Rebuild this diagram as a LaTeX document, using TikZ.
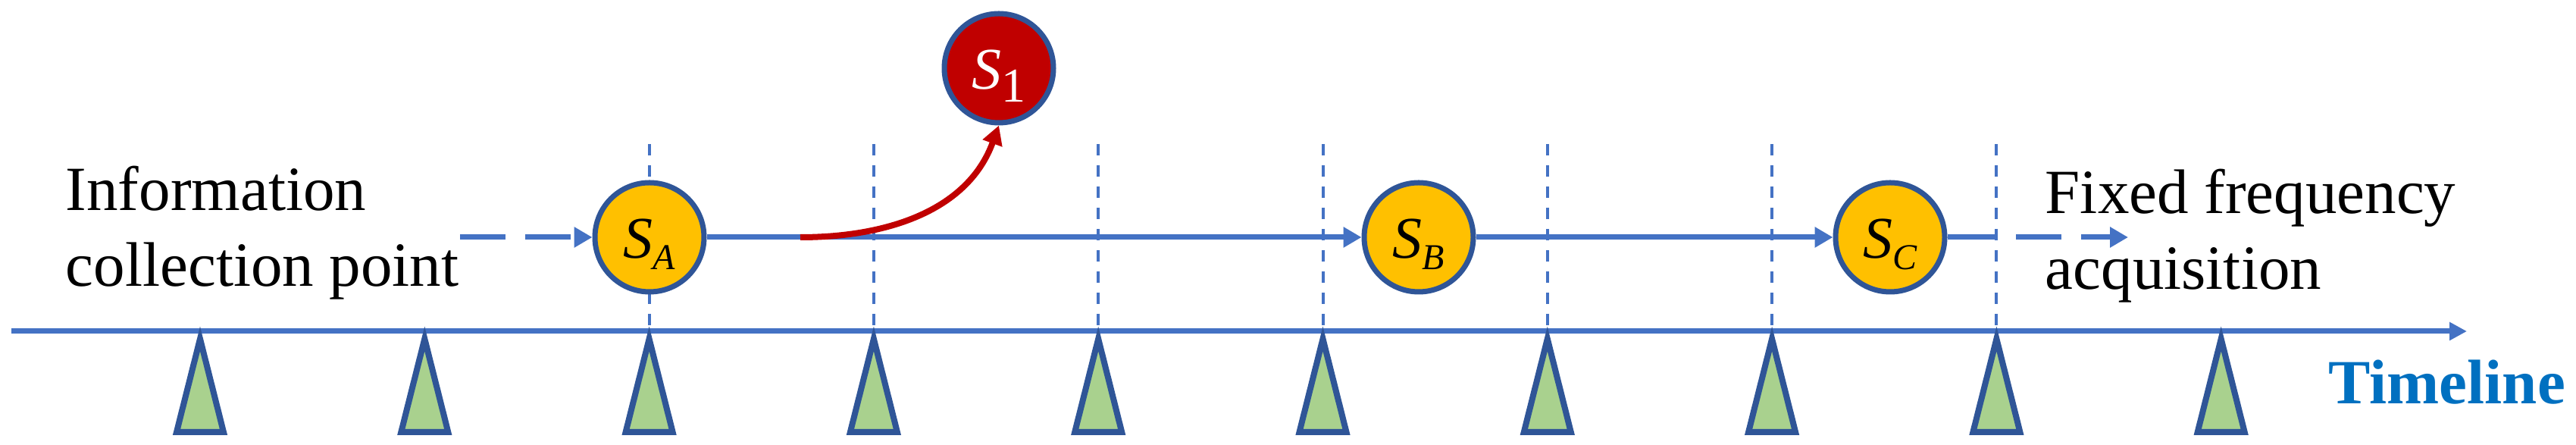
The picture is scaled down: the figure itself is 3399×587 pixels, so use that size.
\documentclass[tikz,border=0pt]{standalone}
\usepackage{fontspec}
\setmainfont{Liberation Serif}
\usetikzlibrary{arrows.meta}
\definecolor{flowblue}{HTML}{4472C4}
\definecolor{rimblue}{HTML}{2F5597}
\definecolor{stateyellow}{HTML}{FFC000}
\definecolor{statered}{HTML}{C00000}
\definecolor{tickgreen}{HTML}{A9D18E}
\definecolor{labelblue}{HTML}{0070C0}
\def\axisy{150}
\def\flowy{274}
\def\guidetop{397}
\def\tickgap{296.3}
\def\tickstart{264}
\def\spread{31}
\tikzset{
    statenode/.style={circle, draw=rimblue, line width=1.75pt, minimum size=36pt, inner sep=0pt,
        text height=14pt, text depth=0pt, font=\fontsize{19.5}{20}\selectfont},
    flowline/.style={flowblue, line width=1.75pt},
    flowtip/.style={-{Triangle[length=6pt,width=6.5pt]}},
    flowdash/.style={dash pattern=on 15pt off 6.5pt},
    notetext/.style={font=\fontsize{20.75}{25}\selectfont, align=left, inner sep=0pt, anchor=base west}
}
\newcommand{\sname}[1]{\textit{S}\lower3.75pt\hbox{\fontsize{12}{12}\selectfont\itshape #1}}
\newcommand{\timemark}[1]{
    \coordinate (t#1) at (\tickstart+#1*\tickgap, \axisy);
    \draw [rimblue, line width=2pt, fill=tickgreen]
    (\tickstart+#1*\tickgap, \axisy-10) -- ++(-\spread,-123) -- ++(2*\spread,0) -- cycle;
}
\newcommand{\timeguide}[1]{
    \coordinate (g#1) at (\tickstart+#1*\tickgap, \guidetop);
    \coordinate (f#1) at (\tickstart+#1*\tickgap, \axisy);
    \draw [flowblue, line width=1pt, dash pattern=on 3.75pt off 3.25pt] (g#1) -- (f#1);
}

\begin{document}
\begin{tikzpicture}[x=0.25pt, y=0.25pt]
    \useasboundingbox (0,0) rectangle (3399,587);
    \timeguide{2}
    \timeguide{3}
    \timeguide{4}
    \timeguide{5}
    \timeguide{6}
    \timeguide{7}
    \timeguide{8}
    \coordinate (axstart) at (15,\axisy);
    \coordinate (axend) at (3255,\axisy);
    \draw [flowline, -{Triangle[length=5.75pt,width=5.75pt]}] (axstart) -- (axend);
    \timemark{0}
    \timemark{1}
    \timemark{2}
    \timemark{3}
    \timemark{4}
    \timemark{5}
    \timemark{6}
    \timemark{7}
    \timemark{8}
    \timemark{9}
    \node[statenode, fill=stateyellow] (SA) at (857,\flowy) {\sname{A}};
    \node[statenode, fill=stateyellow] (SB) at (1872,\flowy) {\sname{B}};
    \node[statenode, fill=stateyellow] (SC) at (2494,\flowy) {\sname{C}};
    \node[statenode, fill=statered, text=white] (S1) at (1318,497)
    {\textit{S}\lower4.25pt\hbox{\fontsize{16}{16}\selectfont 1}};
    \node[notetext] (info) at (86,209) {Information\\collection point};
    \node[notetext] (fixed) at (2698,205) {Fixed frequency\\acquisition};
    \node[notetext, font=\fontsize{20.75}{25}\selectfont\bfseries, text=labelblue] (timeline) at (3072,54) {Timeline};
    \coordinate (infoend) at (607,\flowy);
    \coordinate (branch) at (1056,\flowy);
    \coordinate (fixcut) at (2634,\flowy);
    \coordinate (fixend) at (2808,\flowy);
    \draw [flowline, flowtip, flowdash] (infoend) -- (SA);
    \draw [flowline, flowtip] (SA) -- (SB);
    \draw [flowline, flowtip] (SB) -- (SC);
    \draw [flowline] (SC) -- (fixcut);
    \draw [flowline, flowtip, flowdash, dash phase=15pt] (fixcut) -- (fixend);
    \draw [statered, line width=2pt, -{Triangle[length=6.25pt,width=6.5pt]}] (branch) to[out=0, in=-110] (S1.south);
\end{tikzpicture}
\end{document}
